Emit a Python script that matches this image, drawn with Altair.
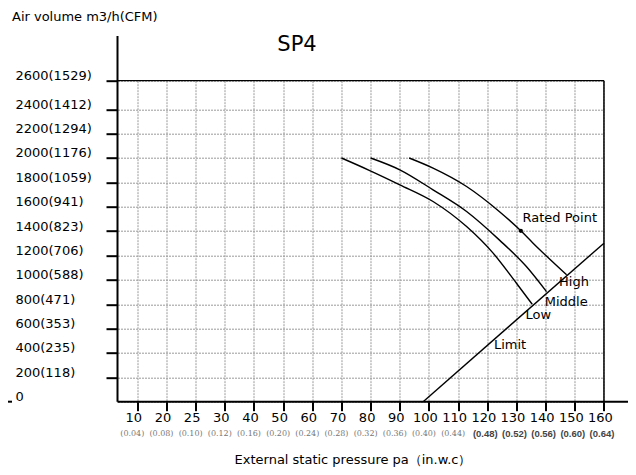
import altair as alt
import pandas as pd

# ---------------- data ----------------
x_ticks = [10, 20, 25, 30, 40, 50, 60, 70, 80, 90, 100, 110, 120, 130, 140, 150, 160]
inwc_serif = ["(0.04)", "(0.08)", "(0.10)", "(0.12)", "(0.16)", "(0.20)", "(0.24)",
              "(0.28)", "(0.32)", "(0.36)", "(0.40)", "(0.44)"]
inwc_sans = ["(0.48)", "(0.52)", "(0.56)", "(0.60)", "(0.64)"]
y_ticks = [0, 200, 400, 600, 800, 1000, 1200, 1400, 1600, 1800, 2000, 2200, 2400, 2600]
y_cfm = [None, 118, 235, 353, 471, 588, 706, 823, 941, 1059, 1176, 1294, 1412, 1529]

low_x = [70, 79.7, 90, 101.4, 112.9, 122, 130, 135.4]
low_y = [2000, 1897, 1780, 1643, 1437, 1219, 972, 800]
mid_x = [80, 90, 101.4, 112.9, 124.1, 133.4, 140.3]
mid_y = [2000, 1903, 1739, 1561, 1328, 1109, 903]
high_x = [93.2, 101.4, 112.9, 124.1, 131.5, 135.7, 147.2]
high_y = [2000, 1917, 1766, 1561, 1402, 1301, 1041]
limit_x = [98, 160]
limit_y = [0, 1301]
rated_x = [131.5]
rated_y = [1402]

note_text = ["Rated Point", "High", "Middle", "Low", "Limit"]
note_x = [132.1, 144.6, 139.7, 133.1, 122.3]
note_y = [1506, 985, 821, 712, 466]

# ---------------- layout ----------------
W = 486.5
H = 321.0
X0 = 19.8       # pixel of first tick
DX = 29.167     # spacing of ticks
Y2400 = H - 12 * 24.37

FONT = "DejaVu Sans"

curves = pd.concat([
    pd.DataFrame({"x": low_x, "y": low_y, "s": "Low", "o": range(len(low_x))}),
    pd.DataFrame({"x": mid_x, "y": mid_y, "s": "Middle", "o": range(len(mid_x))}),
    pd.DataFrame({"x": high_x, "y": high_y, "s": "High", "o": range(len(high_x))}),
])
limit_df = pd.DataFrame({"x": limit_x, "y": limit_y})
rated_df = pd.DataFrame({"x": rated_x, "y": rated_y})
notes_df = pd.DataFrame({"x": note_x, "y": note_y, "t": note_text})
serif_df = pd.DataFrame({"x": x_ticks[:len(inwc_serif)], "t": inwc_serif})
sans_df = pd.DataFrame({"x": x_ticks[len(inwc_serif):], "t": inwc_sans})
grid_df = pd.DataFrame({"x": [x_ticks[0]], "y": [y_ticks[0]]})

xscale = alt.Scale(domain=[0] + x_ticks,
                   range=[0] + [X0 + DX * i for i in range(len(x_ticks))],
                   zero=False, nice=False)
yscale = alt.Scale(domain=[0, 2400, 2600], range=[H, Y2400, 0], zero=False, nice=False)

ylab = "''"
for v, c in zip(y_ticks, y_cfm):
    s = str(v) if c is None else f"{v}({c})"
    ylab = f"datum.value == {v} ? '{s}' : ({ylab})"

x_axis = alt.Axis(values=x_ticks, tickCount=200, format="d", labelFont=FONT, labelFontSize=13,
                  labelColor="black", labelOffset=-4, labelPadding=1, labelAngle=0,
                  labelOverlap=False, labelFlush=False, tickSize=9, tickWidth=2,
                  tickColor="black", domain=False, grid=True, gridColor="#9a9a9a",
                  gridDash=[2, 1], gridWidth=1, title=None)
y_axis = alt.Axis(values=y_ticks, tickCount=200, labelExpr=ylab, labelFont=FONT, labelFontSize=13,
                  labelColor="black", labelAlign="left", labelBaseline="alphabetic",
                  labelPadding=91, labelOffset=-1, labelOverlap=False, labelFlush=False,
                  tickSize=11.5, tickWidth=2, tickColor="black",
                  tickOpacity={"condition": {"test": "datum.value == 0", "value": 0}, "value": 1},
                  domain=False, grid=True, gridColor="#9a9a9a", gridDash=[2, 1],
                  gridWidth=1, title=None)

base_grid = alt.Chart(grid_df).mark_point(opacity=0).encode(
    x=alt.X("x:Q", scale=xscale, axis=x_axis),
    y=alt.Y("y:Q", scale=yscale, axis=y_axis),
)

# borders / axis lines
top_border = alt.Chart(grid_df).mark_rule(color="black", strokeWidth=1.2).encode(
    y=alt.datum(2600), x=alt.value(0), x2=alt.value(W))
right_border = alt.Chart(grid_df).mark_rule(color="black", strokeWidth=1.5).encode(
    x=alt.datum(160), y=alt.value(0), y2=alt.value(H))
y_line = alt.Chart(grid_df).mark_rule(color="black", strokeWidth=2).encode(
    x=alt.value(0), y=alt.value(-44.7), y2=alt.value(H))
x_line = alt.Chart(grid_df).mark_rule(color="black", strokeWidth=2).encode(
    y=alt.datum(0), x=alt.value(0), x2=alt.value(W + 24))
zero_tick = alt.Chart(grid_df).mark_rule(color="black", strokeWidth=2).encode(
    y=alt.datum(0), x=alt.value(-109.5), x2=alt.value(-105.5))

lines = alt.Chart(curves).mark_line(color="black", strokeWidth=1.4, interpolate="monotone").encode(
    x="x:Q", y="y:Q", detail="s:N", order="o:Q")
limit = alt.Chart(limit_df).mark_line(color="black", strokeWidth=1.4).encode(x="x:Q", y="y:Q")
rated = alt.Chart(rated_df).mark_circle(color="black", size=18, opacity=1).encode(x="x:Q", y="y:Q")
notes = alt.Chart(notes_df).mark_text(font=FONT, fontSize=13, align="left", baseline="middle",
                                      color="black").encode(x="x:Q", y="y:Q", text="t:N")

serif_t = alt.Chart(serif_df).mark_text(font="DejaVu Serif", fontSize=8, color="#777777",
                                        align="center", baseline="middle", dx=-5).encode(
    x="x:Q", y=alt.value(353.3), text="t:N")
sans_t = alt.Chart(sans_df).mark_text(font="Liberation Sans", fontSize=9.5, color="#444444",
                                      fontWeight="bold", align="center", baseline="middle",
                                      dx=-2).encode(
    x="x:Q", y=alt.value(353.3), text="t:N")

title_y = alt.Chart(grid_df).mark_text(font=FONT, fontSize=13, align="left", baseline="middle",
                                       color="black").encode(
    x=alt.value(-105.5), y=alt.value(-64), text=alt.value("Air volume m3/h(CFM)"))
title_sp = alt.Chart(grid_df).mark_text(font=FONT, fontSize=21, align="center", baseline="middle",
                                        color="black").encode(
    x=alt.value(179.5), y=alt.value(-35.7), text=alt.value("SP4"))
title_x = alt.Chart(grid_df).mark_text(font=FONT, fontSize=13, align="center", baseline="middle",
                                       color="black").encode(
    x=alt.value(235.5), y=alt.value(379.3), text=alt.value("External static pressure pa（in.w.c）"))

chart = alt.layer(
    base_grid, top_border, right_border, lines, limit, rated, notes,
    y_line, x_line, zero_tick, serif_t, sans_t, title_y, title_sp, title_x,
).properties(
    width=W, height=H,
    autosize=alt.AutoSizeParams(type="none"),
    padding={"left": 109.5, "top": 72.7, "right": 24, "bottom": 65},
).configure_view(strokeOpacity=0)

chart.save("out.html", embed_options={"renderer": "svg", "actions": False})
